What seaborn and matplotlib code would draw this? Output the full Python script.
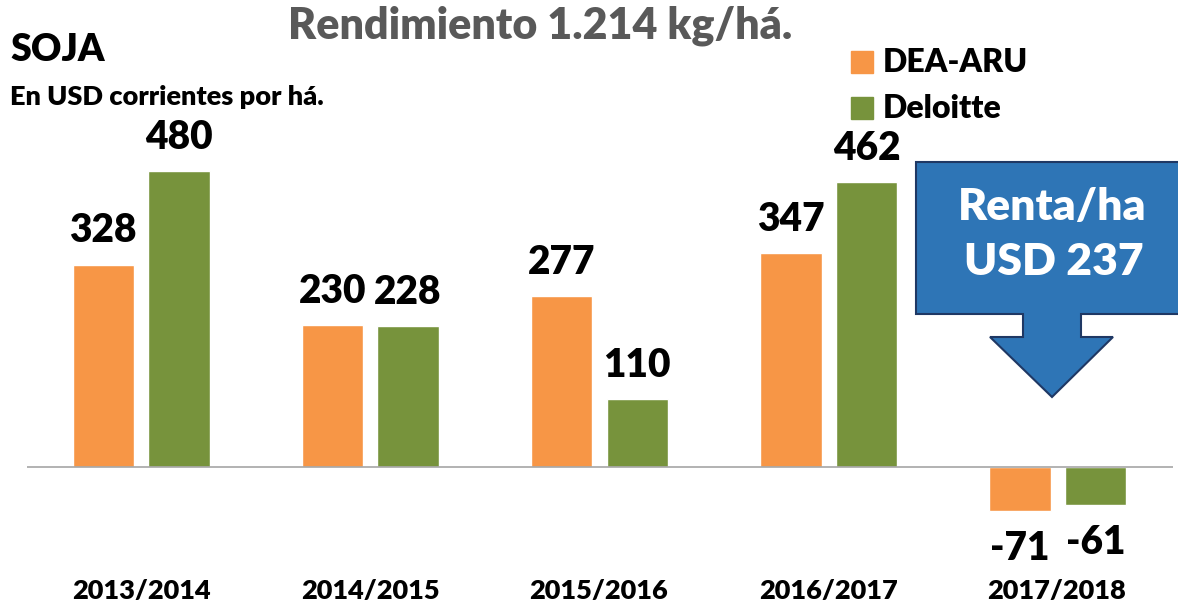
import pandas as pd
import seaborn as sns
import matplotlib.pyplot as plt
from matplotlib.patches import Polygon

campaigns = ['2013/2014', '2014/2015', '2015/2016', '2016/2017', '2017/2018']
dea_aru = [328, 230, 277, 347, -71]
deloitte = [480, 228, 110, 462, -61]
series = ['DEA-ARU', 'Deloitte']
colors = {'DEA-ARU': '#F79646', 'Deloitte': '#77933C'}

df = pd.DataFrame({'campaign': campaigns * 2,
                   'source': ['DEA-ARU'] * 5 + ['Deloitte'] * 5,
                   'value': dea_aru + deloitte})

sns.set_style('white')
plt.rcParams['font.family'] = ['Lato', 'DejaVu Sans']
plt.rcParams['font.weight'] = 'heavy'
plt.rcParams['text.color'] = 'black'
FW = 'heavy'

W, H = 1178, 607
fig = plt.figure(figsize=(W / 100, H / 100), dpi=100)
ax = fig.add_axes([26.5 / W, 1 - 560 / H, (1172.5 - 26.5) / W, 460 / H])

sns.barplot(data=df, x='campaign', y='value', hue='source', palette=colors,
            width=0.66, gap=0.19, saturation=1, ax=ax, legend=False)
ax.set_ylim(-151, 595)
ax.set_xlim(-0.5, len(campaigns) - 0.5)
ax.axhline(0, color='#A6A6A6', lw=1.2)
for s in ax.spines.values():
    s.set_visible(False)
ax.set_yticks([])
ax.set_xlabel('')
ax.set_ylabel('')
ax.tick_params(axis='x', length=0, pad=0)
ax.set_xticks(range(len(campaigns)))
ax.set_xticklabels([])
for i, c in enumerate(campaigns):
    fig.text((26.5 + 229 * (i + 0.5)) / W, 1 - 591 / H, c, ha='center', va='center',
             fontsize=19.5, fontweight=FW, color='black')

# value labels
for cont in ax.containers:
    for bar in cont:
        v = bar.get_height()
        x = bar.get_x() + bar.get_width() / 2
        if v >= 0:
            ax.annotate(f'{v:.0f}', (x, v), xytext=(0, 11), textcoords='offset points',
                        ha='center', va='bottom', fontsize=28, fontweight=FW, color='black')
        else:
            ax.annotate(f'{v:.0f}', (x, v), xytext=(0, -14), textcoords='offset points',
                        ha='center', va='top', fontsize=28, fontweight=FW, color='black')

# titles
fig.text(540 / W, 1 - 26 / H, 'Rendimiento 1.214 kg/há.', ha='center', va='center',
         fontsize=31, fontweight=FW, color='#595959')
fig.text(10 / W, 1 - 50 / H, 'SOJA', ha='left', va='center', fontsize=27,
         fontweight=FW, color='black')
fig.text(10 / W, 1 - 97 / H, 'En USD corrientes por há.', ha='left', va='center',
         fontsize=19.5, fontweight=FW, color='black')

# legend
for i, s in enumerate(series):
    yc = 62 + 46 * i
    fig.patches.append(plt.Rectangle((851 / W, 1 - (yc + 11) / H), 22 / W, 22 / H,
                                     transform=fig.transFigure, color=colors[s]))
    fig.text(883 / W, 1 - yc / H, s, ha='left', va='center', fontsize=23,
             fontweight=FW, color='black')

# arrow callout
pts = [(916, 162), (1190, 162), (1190, 314), (1081, 314), (1081, 337), (1113, 337),
       (1052, 397), (990, 337), (1023, 337), (1023, 314), (916, 314)]
arrow = Polygon([(x / W, 1 - y / H) for x, y in pts], closed=True,
                transform=fig.transFigure, facecolor='#2E75B6',
                edgecolor='#1F3864', lw=1.5, clip_on=False)
fig.patches.append(arrow)
fig.text(1052 / W, 1 - 207 / H, 'Renta/ha', ha='center', va='center',
         fontsize=32, fontweight=FW, color='white')
fig.text(1054 / W, 1 - 262 / H, 'USD 237', ha='center', va='center',
         fontsize=32, fontweight=FW, color='white')

fig.savefig('out.png', dpi=100)
